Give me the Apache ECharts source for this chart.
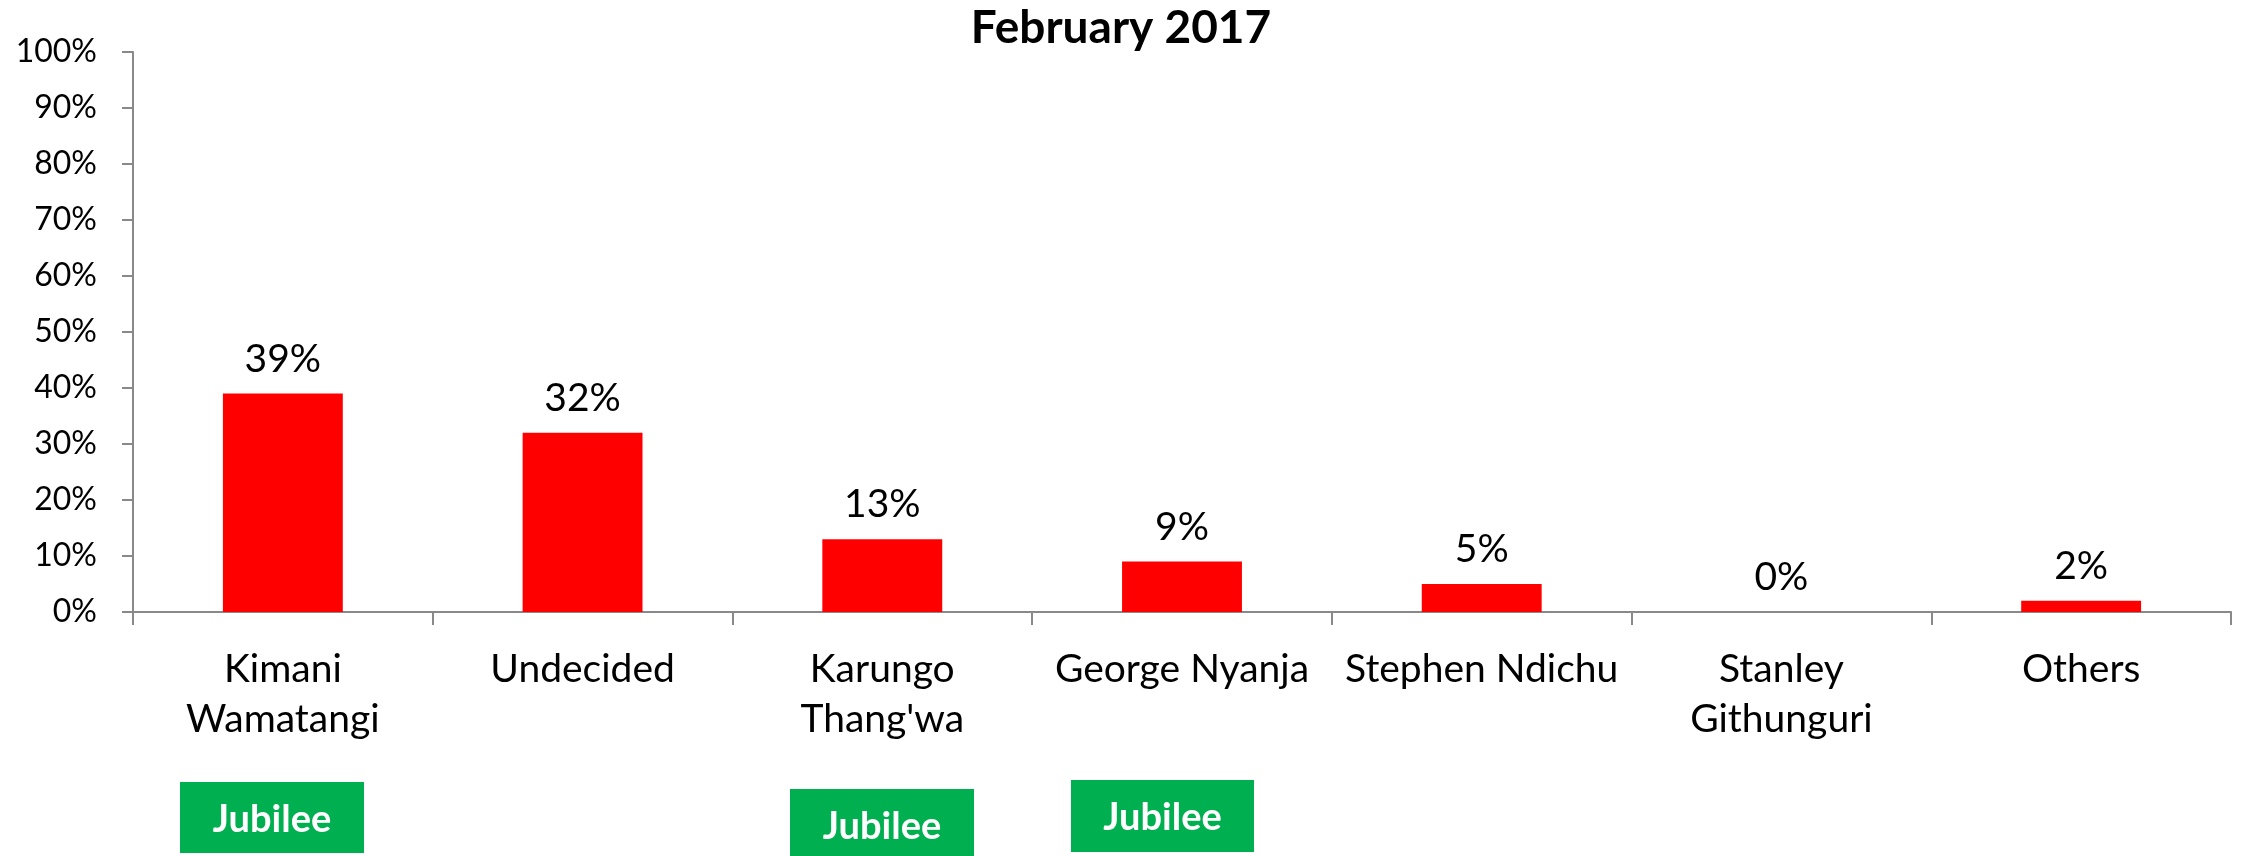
<!DOCTYPE html>
<html>
<head>
<meta charset="utf-8">
<script src="https://cdn.jsdelivr.net/npm/echarts@6/dist/echarts.min.js"></script>
<style>
  html, body { margin: 0; padding: 0; background: #ffffff; }
  #chart { width: 2242px; height: 856px; }
</style>
</head>
<body>
<div id="chart"></div>
<script>
// ---- data ----
const titleText = 'February 2017';
const categories = ['Kimani\nWamatangi', 'Undecided', "Karungo\nThang'wa", 'George Nyanja', 'Stephen Ndichu', 'Stanley\nGithunguri', 'Others'];
const values = [39, 32, 13, 9, 5, 0, 2];
const yMin = 0, yMax = 100, yStep = 10;
const partyLabel = 'Jubilee';

const FONT = 'Lato, "Open Sans", sans-serif';
const axisColor = '#898989';

const chart = echarts.init(document.getElementById('chart'), null, { renderer: 'canvas' });

function box(x, y, w, h) {
  return {
    type: 'group',
    x: x, y: y,
    children: [
      { type: 'rect', shape: { x: 0, y: 0, width: w, height: h }, style: { fill: '#00B050' } },
      { type: 'text', x: w / 2, y: h / 2 + 2,
        style: { text: partyLabel, fill: '#ffffff', font: 'bold 38px ' + FONT, align: 'center', verticalAlign: 'middle' } }
    ]
  };
}

const option = {
  backgroundColor: '#ffffff',
  animation: false,
  title: {
    text: titleText,
    left: 'center',
    top: 5,
    padding: [0, 36, 0, 0],
    textStyle: { fontFamily: FONT, fontWeight: 'bold', fontSize: 46, color: '#000000' }
  },
  grid: { left: 133, right: 11, top: 52, bottom: 244, containLabel: false },
  xAxis: {
    type: 'category',
    data: categories,
    boundaryGap: true,
    axisLine: { lineStyle: { color: axisColor, width: 2 } },
    axisTick: { show: true, length: 13, alignWithLabel: false, interval: 0, lineStyle: { color: axisColor, width: 2 } },
    axisLabel: { interval: 0, margin: 32, fontFamily: FONT, fontSize: 39, lineHeight: 50, color: '#000000' }
  },
  yAxis: {
    type: 'value',
    min: yMin, max: yMax, interval: yStep,
    axisLine: { show: true, lineStyle: { color: axisColor, width: 2 } },
    axisTick: { show: true, length: 11, lineStyle: { color: axisColor, width: 2 } },
    splitLine: { show: false },
    axisLabel: { margin: 36, fontFamily: FONT, fontSize: 32, color: '#000000', formatter: '{value}%' }
  },
  series: [{
    type: 'bar',
    data: values,
    barWidth: '40%',
    itemStyle: { color: '#FF0000' },
    label: {
      show: true, position: 'top', distance: 15,
      fontFamily: FONT, fontSize: 39, color: '#000000',
      formatter: p => p.value + '%'
    }
  }],
  graphic: [
    box(180, 782, 184, 71),
    box(790, 789, 184, 72),
    box(1071, 780, 183, 72)
  ]
};
chart.setOption(option);
</script>
</body>
</html>
